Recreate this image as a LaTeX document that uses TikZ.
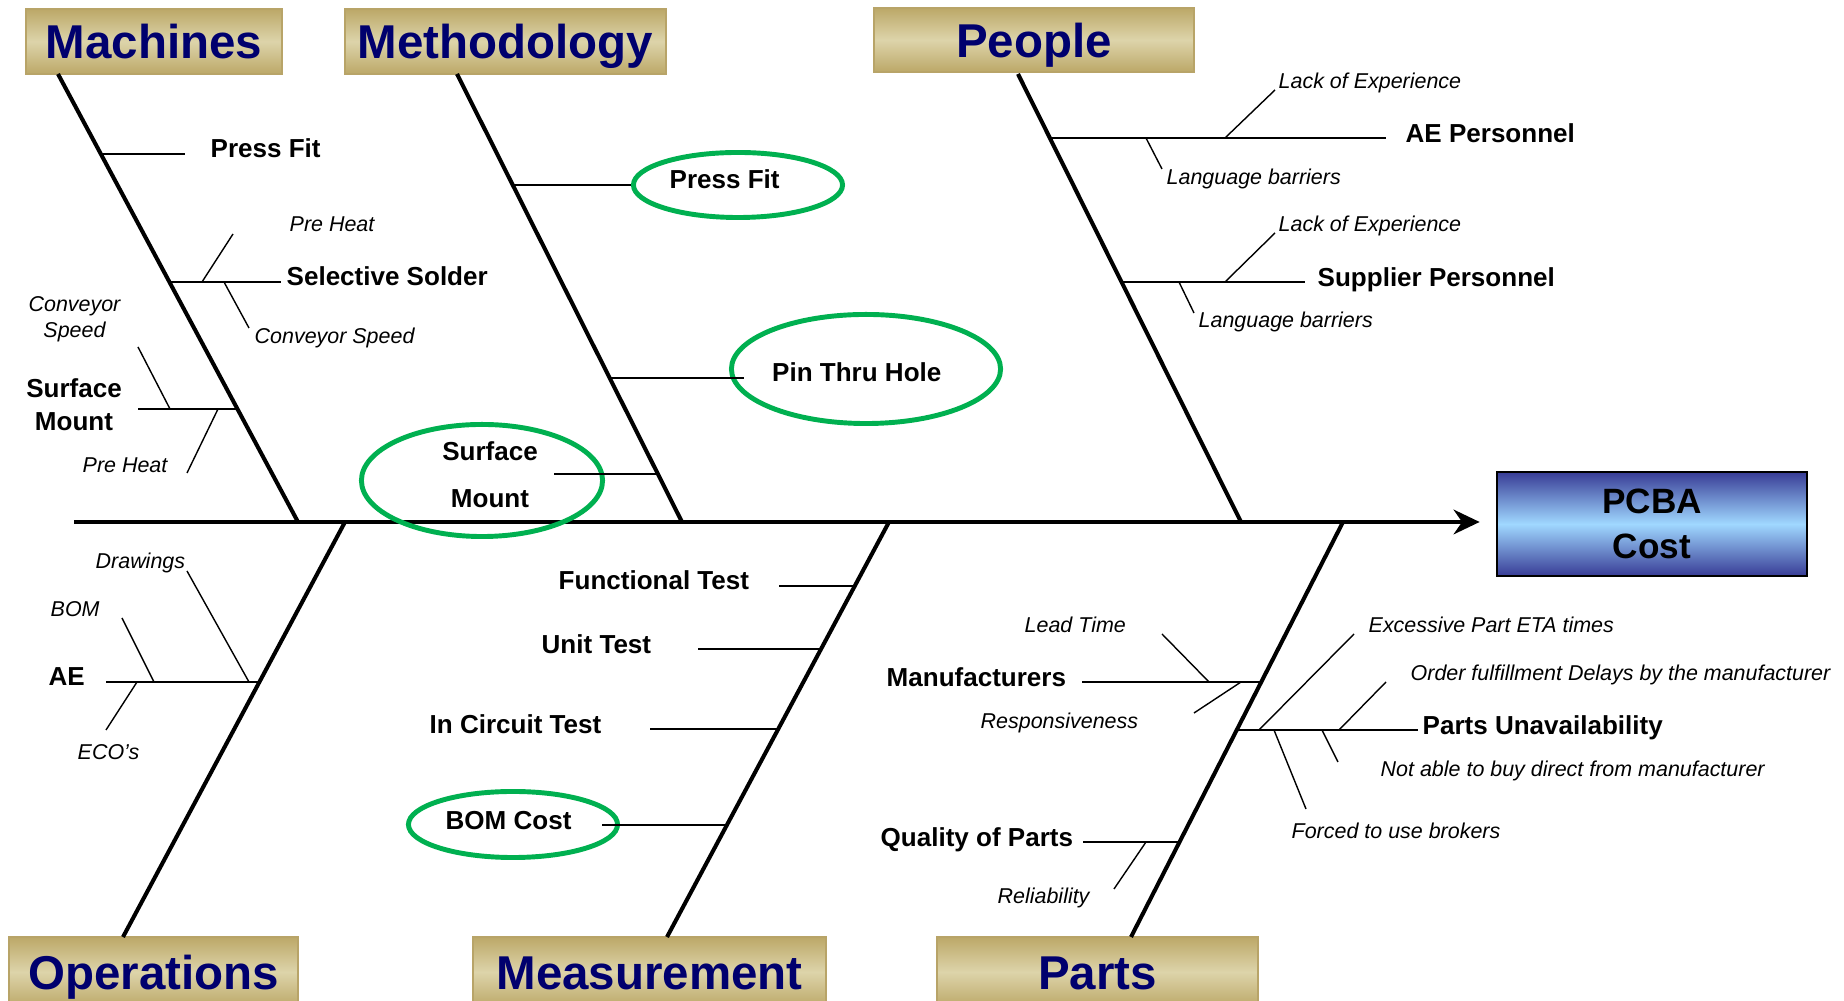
\documentclass[tikz,border=0pt]{standalone}
\usepackage{fontspec}
\setmainfont{Liberation Sans}
\usetikzlibrary{arrows.meta, shapes.geometric}

\definecolor{navytext}{RGB}{0,0,110}
\definecolor{golddark}{RGB}{188,168,104}
\definecolor{goldlight}{RGB}{221,212,170}
\definecolor{goldedge}{RGB}{184,164,104}
\definecolor{ringgreen}{RGB}{0,176,80}
\definecolor{costdark}{RGB}{56,60,150}
\definecolor{costlight}{RGB}{160,216,255}

\begin{document}
\begin{tikzpicture}[
        x=0.01cm, y=-0.01cm,
        category/.style={rectangle, draw=goldedge, line width=0.6pt, top color=golddark, bottom color=golddark, middle color=goldlight, inner sep=0pt, text=navytext, font=\fontsize{13.5}{16}\selectfont\bfseries, text height=9.7pt, text depth=0pt},
        effect/.style={rectangle, draw=black, line width=0.7pt, top color=costdark, bottom color=costdark, middle color=costlight, align=center, font=\fontsize{10}{12.8}\selectfont\bfseries},
        boldlbl/.style={inner sep=0pt, font=\fontsize{7.4}{9.4}\selectfont\bfseries},
        itlbl/.style={inner sep=0pt, font=\fontsize{6.1}{7.4}\selectfont\itshape},
        cause/.style={boldlbl, anchor=west, text height=5.3pt, text depth=0pt},
        detail/.style={itlbl, anchor=west, text height=4.4pt, text depth=0pt},
        ring/.style={ellipse, draw=ringgreen, line width=1.4pt, inner sep=0pt},
        bone/.style={line width=1.15pt},
        twig/.style={line width=0.55pt},
        sprig/.style={line width=0.4pt},
        spine/.style={line width=1.15pt, -{Stealth[length=7.4pt, width=7pt]}, shorten >=0.16cm}
    ]
        \useasboundingbox (0,0) rectangle (1844,1001);

        % --- CATEGORY HEADERS ---
        \node[category, minimum width=2.56cm, minimum height=0.65cm] (machines) at (154,41.5) {Machines};
        \node[category, minimum width=3.21cm, minimum height=0.65cm] (methodology) at (505.5,41.5) {Methodology};
        \node[category, minimum width=3.20cm, minimum height=0.64cm] (people) at (1034,40) {People};
        \node[category, minimum width=2.89cm, minimum height=0.70cm] (operations) at (153.5,972) {Operations};
        \node[category, minimum width=3.53cm, minimum height=0.70cm] (measurement) at (649.5,972) {Measurement};
        \node[category, minimum width=3.21cm, minimum height=0.70cm] (parts) at (1097.5,972) {Parts};

        % --- EFFECT & SPINE ---
        \node[effect, minimum width=3.10cm, minimum height=1.04cm] (cost) at (1652,524) {PCBA\\Cost};
        \coordinate (tail) at (74,522);
        \draw[spine] (tail) -- (tail -| cost.west);

        % --- MAIN BONES ---
        \coordinate (machT) at (58,74);   \coordinate (machB) at (298,522);
        \coordinate (methT) at (457,74);  \coordinate (methB) at (682,522);
        \coordinate (peopT) at (1018,74); \coordinate (peopB) at (1241,522);
        \coordinate (operT) at (345,522); \coordinate (operB) at (123,937);
        \coordinate (measT) at (889,522); \coordinate (measB) at (667,937);
        \coordinate (partT) at (1343,522);\coordinate (partB) at (1131,937);
        \draw[bone] (machT) -- (machB);
        \draw[bone] (methT) -- (methB);
        \draw[bone] (peopT) -- (peopB);
        \draw[bone] (operT) -- (operB);
        \draw[bone] (measT) -- (measB);
        \draw[bone] (partT) -- (partB);

        % --- MACHINES ---
        \coordinate (mPressA) at (101,154);   \coordinate (mPressB) at (185,154);
        \coordinate (mSolderA) at (169.5,282);\coordinate (mSolderB) at (281,282);
        \coordinate (mHeatA) at (202,282);    \coordinate (mHeatB) at (233,234);
        \coordinate (mSpeedA) at (224,282);   \coordinate (mSpeedB) at (249,328);
        \coordinate (mSmtA) at (237.5,409);   \coordinate (mSmtB) at (138,409);
        \coordinate (mSmtSpeedA) at (170,409);\coordinate (mSmtSpeedB) at (138,347);
        \coordinate (mSmtHeatA) at (218,409); \coordinate (mSmtHeatB) at (187,473);
        \node[cause] (mPressLbl) at (210,148) {Press Fit};
        \node[cause] (mSolderLbl) at (286,276.5) {Selective Solder};
        \node[detail] (mHeatLbl) at (289,224) {Pre Heat};
        \node[detail] (mSpeedLbl) at (254,335.5) {Conveyor Speed};
        \node[boldlbl, align=center] (mSmtLbl) at (74,405) {Surface\\Mount};
        \node[itlbl, align=center] (mSmtSpeedLbl) at (74.5,319.5) {Conveyor\\Speed};
        \node[detail] (mSmtHeatLbl) at (82,464.5) {Pre Heat};
        \draw[twig] (mPressA) -- (mPressB);
        \draw[twig] (mSolderA) -- (mSolderB);
        \draw[sprig] (mHeatA) -- (mHeatB);
        \draw[sprig] (mSpeedA) -- (mSpeedB);
        \draw[twig] (mSmtA) -- (mSmtB);
        \draw[sprig] (mSmtSpeedA) -- (mSmtSpeedB);
        \draw[sprig] (mSmtHeatA) -- (mSmtHeatB);

        % --- METHODOLOGY ---
        \node[ring, minimum width=2.09cm, minimum height=0.65cm] (tPressRing) at (738,185) {};
        \node[ring, minimum width=2.69cm, minimum height=1.09cm] (tPinRing) at (866,369) {};
        \node[ring, minimum width=2.41cm, minimum height=1.12cm] (tSmtRing) at (482,480.5) {};
        \node[cause] (tPressLbl) at (669,179) {Press Fit};
        \node[cause] (tPinLbl) at (771.5,372) {Pin Thru Hole};
        \node[boldlbl, align=center, font=\fontsize{7.4}{13.4}\selectfont\bfseries] (tSmtLbl) at (490,475) {Surface\\Mount};
        \coordinate (tPressA) at (513,185);
        \coordinate (tPinA) at (609.7,378); \coordinate (tPinB) at (744,378);
        \coordinate (tSmtA) at (658,474);   \coordinate (tSmtB) at (554,474);
        \draw[twig] (tPressA) -- (tPressRing.west);
        \draw[twig] (tPinA) -- (tPinB);
        \draw[twig] (tSmtA) -- (tSmtB);

        % --- PEOPLE ---
        \coordinate (pAeA) at (1050,138);      \coordinate (pAeB) at (1386,138);
        \coordinate (pAeLackA) at (1225,138);  \coordinate (pAeLackB) at (1275,90);
        \coordinate (pAeLangA) at (1146,138);  \coordinate (pAeLangB) at (1162,169);
        \coordinate (pSupA) at (1121.5,282);   \coordinate (pSupB) at (1305,282);
        \coordinate (pSupLackA) at (1225,282); \coordinate (pSupLackB) at (1275,233);
        \coordinate (pSupLangA) at (1179,282); \coordinate (pSupLangB) at (1194,313);
        \node[cause] (pAeLbl) at (1405,133) {AE Personnel};
        \node[detail] (pAeLackLbl) at (1278,80.5) {Lack of Experience};
        \node[detail] (pAeLangLbl) at (1166,177) {Language barriers};
        \node[cause] (pSupLbl) at (1317,277) {Supplier Personnel};
        \node[detail] (pSupLackLbl) at (1278,223.5) {Lack of Experience};
        \node[detail] (pSupLangLbl) at (1198,320) {Language barriers};
        \draw[twig] (pAeA) -- (pAeB);
        \draw[sprig] (pAeLackA) -- (pAeLackB);
        \draw[sprig] (pAeLangA) -- (pAeLangB);
        \draw[twig] (pSupA) -- (pSupB);
        \draw[sprig] (pSupLackA) -- (pSupLackB);
        \draw[sprig] (pSupLangA) -- (pSupLangB);

        % --- OPERATIONS ---
        \coordinate (oAeA) at (259.4,682); \coordinate (oAeB) at (106,682);
        \coordinate (oDrawA) at (249,682); \coordinate (oDrawB) at (187,571);
        \coordinate (oBomA) at (154,682);  \coordinate (oBomB) at (122,618);
        \coordinate (oEcoA) at (137,682);  \coordinate (oEcoB) at (106,730);
        \node[cause] (oAeLbl) at (48,676.5) {AE};
        \node[detail] (oDrawLbl) at (95,560.5) {Drawings};
        \node[detail] (oBomLbl) at (50,608.5) {BOM};
        \node[detail] (oEcoLbl) at (77,751.5) {ECO’s};
        \draw[twig] (oAeA) -- (oAeB);
        \draw[sprig] (oDrawA) -- (oDrawB);
        \draw[sprig] (oBomA) -- (oBomB);
        \draw[sprig] (oEcoA) -- (oEcoB);

        % --- MEASUREMENT ---
        \node[ring, minimum width=2.09cm, minimum height=0.66cm] (sBomRing) at (513,824.5) {};
        \coordinate (sFuncA) at (854.8,586); \coordinate (sFuncB) at (779,586);
        \coordinate (sUnitA) at (821.1,649); \coordinate (sUnitB) at (698,649);
        \coordinate (sIctA) at (778.3,729);  \coordinate (sIctB) at (650,729);
        \coordinate (sBomA) at (726.9,825);  \coordinate (sBomB) at (602,825);
        \node[cause] (sFuncLbl) at (558,580) {Functional Test};
        \node[cause] (sUnitLbl) at (541,644) {Unit Test};
        \node[cause] (sIctLbl) at (429,724) {In Circuit Test};
        \node[cause] (sBomLbl) at (445,820) {BOM Cost};
        \draw[twig] (sFuncA) -- (sFuncB);
        \draw[twig] (sUnitA) -- (sUnitB);
        \draw[twig] (sIctA) -- (sIctB);
        \draw[twig] (sBomA) -- (sBomB);

        % --- PARTS ---
        \coordinate (rMfgA) at (1261.3,682);  \coordinate (rMfgB) at (1082,682);
        \coordinate (rLeadA) at (1209,682);   \coordinate (rLeadB) at (1162,634);
        \coordinate (rRespA) at (1241,682);   \coordinate (rRespB) at (1194,713);
        \coordinate (rQualA) at (1179.5,842); \coordinate (rQualB) at (1083,842);
        \coordinate (rRelA) at (1146,842);    \coordinate (rRelB) at (1114,889);
        \coordinate (rUnavA) at (1236.8,730); \coordinate (rUnavB) at (1418,730);
        \coordinate (rEtaA) at (1259,730);    \coordinate (rEtaB) at (1354,634);
        \coordinate (rOrderA) at (1339,730);  \coordinate (rOrderB) at (1386,682);
        \coordinate (rDirectA) at (1322,730); \coordinate (rDirectB) at (1338,762);
        \coordinate (rBrokerA) at (1274,730); \coordinate (rBrokerB) at (1306,809);
        \node[cause] (rMfgLbl) at (886,677) {Manufacturers};
        \node[detail] (rLeadLbl) at (1024,624.5) {Lead Time};
        \node[detail] (rRespLbl) at (980,721) {Responsiveness};
        \node[cause] (rQualLbl) at (880,837) {Quality of Parts};
        \node[detail] (rRelLbl) at (997,896) {Reliability};
        \node[cause] (rUnavLbl) at (1422,725.5) {Parts Unavailability};
        \node[detail] (rEtaLbl) at (1368,625) {Excessive Part ETA times};
        \node[detail] (rOrderLbl) at (1410,673) {Order fulfillment Delays by the manufacturer};
        \node[detail] (rDirectLbl) at (1380,768.5) {Not able to buy direct from manufacturer};
        \node[detail] (rBrokerLbl) at (1291,830.5) {Forced to use brokers};
        \draw[twig] (rMfgA) -- (rMfgB);
        \draw[sprig] (rLeadA) -- (rLeadB);
        \draw[sprig] (rRespA) -- (rRespB);
        \draw[twig] (rQualA) -- (rQualB);
        \draw[sprig] (rRelA) -- (rRelB);
        \draw[twig] (rUnavA) -- (rUnavB);
        \draw[sprig] (rEtaA) -- (rEtaB);
        \draw[sprig] (rOrderA) -- (rOrderB);
        \draw[sprig] (rDirectA) -- (rDirectB);
        \draw[sprig] (rBrokerA) -- (rBrokerB);

    \end{tikzpicture}
\end{document}
